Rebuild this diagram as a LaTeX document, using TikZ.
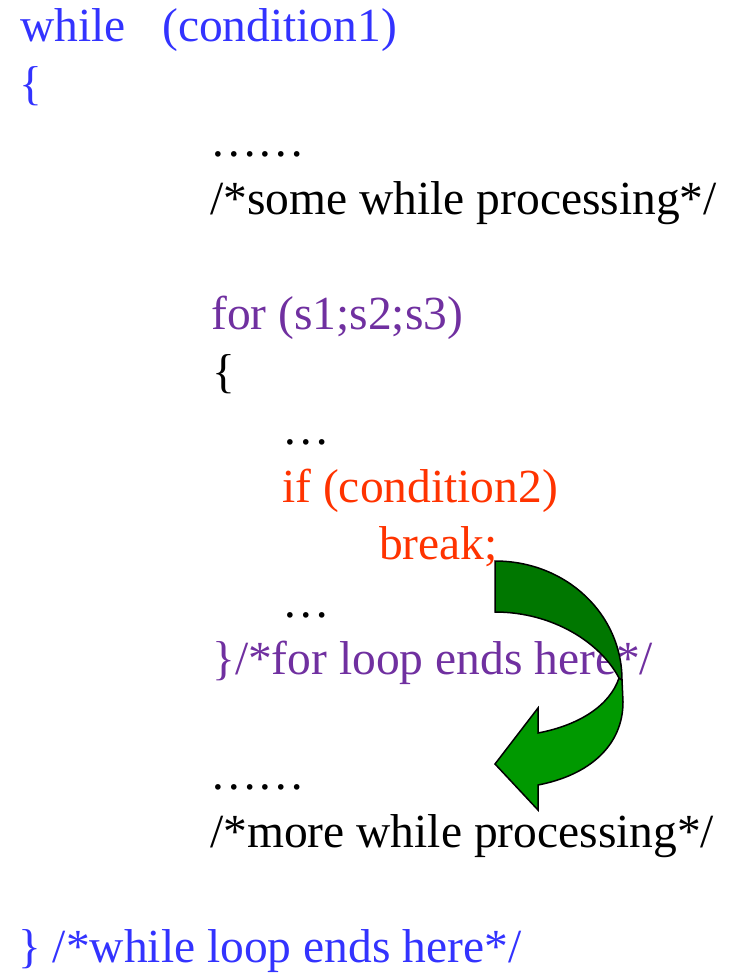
\documentclass[tikz,border=0pt]{standalone}
\usepackage{fontspec}
\setmainfont{Liberation Serif}
\definecolor{whileblue}{RGB}{51,51,255}
\definecolor{forpurple}{RGB}{112,48,160}
\definecolor{ifred}{RGB}{255,51,0}
\definecolor{arrowdark}{RGB}{0,119,0}
\definecolor{arrowlight}{RGB}{0,153,0}
\begin{document}
\begin{tikzpicture}[x=1pt,y=-1pt,
    code/.style={anchor=base west,inner sep=0pt,font=\fontsize{47.5}{57.5}\selectfont},
    band/.style={draw=black,line width=1.5pt,line join=miter}]
            \useasboundingbox (0,0) rectangle (732,973);
            \node [code,whileblue] (whileline) at (20,42) {while\hspace{36.5pt}(condition1)};
            \node [code,whileblue] (whileopen) at (19,99.5) {\{};
            \node [code] (dotsa) at (210,157) {……};
            \node [code] (someproc) at (210,214.5) {/*some while processing*/};
            \node [code,forpurple] (forline) at (211,329.5) {for (s1;s2;s3)};
            \node [code] (foropen) at (212,387) {\{};
            \node [code] (dotsb) at (282,444.5) {…};
            \node [code,ifred] (ifline) at (282,502) {if (condition2)};
            \node [code,ifred] (breakline) at (379,559.5) {break;};
            \node [code] (dotsc) at (282,617) {…};
            \node [code,forpurple] (forclose) at (212,674.5) {\}/*for loop ends here*/};
            \node [code] (dotsd) at (210,789.5) {……};
            \node [code] (moreproc) at (210,847) {/*more while processing*/};
            \node [code,whileblue] (whileclose) at (18,962) {\} /*while loop ends here*/};
            \filldraw [band,fill=arrowlight] (619,678) .. controls (610,705) and (580,725) .. (538,733)
                -- (538,708) -- (495,764) -- (538,810) -- (538,785)
                .. controls (590,775) and (623,745) .. (623,702) -- (622,680) -- cycle;
            \filldraw [band,fill=arrowdark] (495,561) .. controls (566,561) and (622,614) .. (622,680)
                -- (619,678) .. controls (600,642) and (552,612) .. (495,612) -- cycle;
        \end{tikzpicture}
\end{document}
